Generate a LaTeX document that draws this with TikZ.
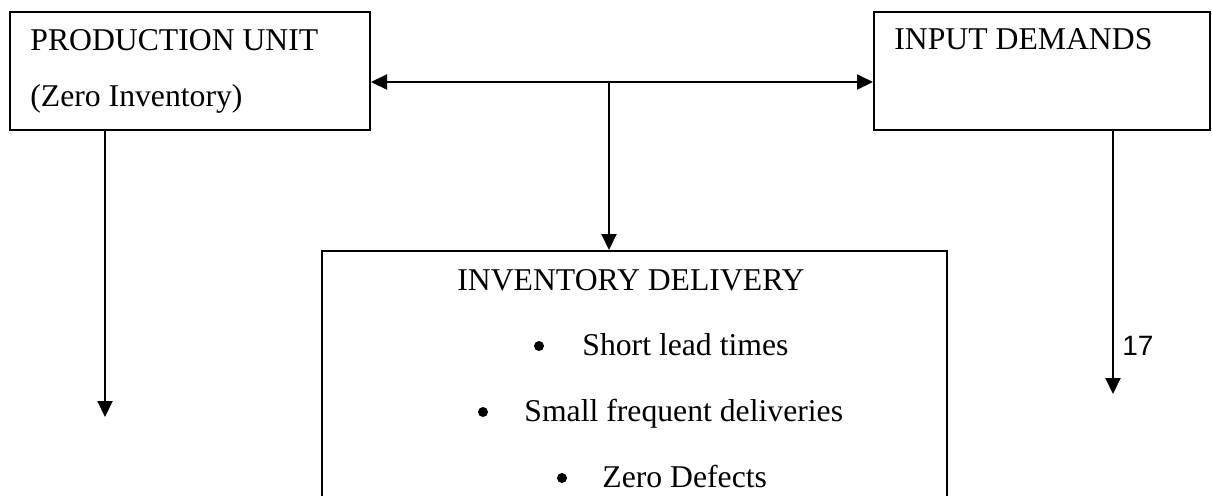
\documentclass[tikz,border=0pt]{standalone}
\usepackage{fontspec}
\setmainfont{Liberation Serif}
\newfontfamily\labelsans{Liberation Sans}
\usetikzlibrary{arrows.meta}

\tikzset{
  box/.style={draw, line width=1pt, anchor=north west, inner sep=0pt},
  txt/.style={anchor=base west, inner sep=0pt, font=\fontsize{15.85pt}{19pt}\selectfont},
  numlbl/.style={anchor=base west, inner sep=0pt, font=\labelsans\fontsize{14pt}{16pt}\selectfont},
  dot/.style={circle, fill=black, inner sep=0pt, minimum size=5pt},
  conn/.style={line width=1pt, -{Triangle[length=8pt,width=7.5pt]}},
  biconn/.style={line width=1pt, {Triangle[length=8pt,width=7.5pt]}-{Triangle[length=8pt,width=7.5pt]}}
}

\begin{document}
\begin{tikzpicture}[x=0.5pt, y=-0.5pt]
  \useasboundingbox (0,0) rectangle (1212,495);
  \fill[white] (0,0) rectangle (1212,495);

  % boxes
  \node[box, minimum width=180pt, minimum height=59pt] (prod) at (9,11) {};
  \node[box, minimum width=168pt, minimum height=59pt] (input) at (873,11) {};
  \node[box, minimum width=312.5pt, minimum height=150pt] (deliv) at (321,250) {};

  % box texts
  \node[txt] (prodA) at (30,50) {PRODUCTION UNIT};
  \node[txt] (prodB) at (30,106) {(Zero Inventory)};
  \node[txt] (inputA) at (894,49) {INPUT DEMANDS};
  \node[txt] (delivA) at (457,290) {INVENTORY DELIVERY};

  % bulleted list
  \node[dot] (b1) at (539,346) {};
  \node[txt] (i1) at (582,355) {Short lead times};
  \node[dot] (b2) at (483,412) {};
  \node[txt] (i2) at (524,421) {Small frequent deliveries};
  \node[dot] (b3) at (562,478) {};
  \node[txt] (i3) at (602,487) {Zero Defects};

  % connectors
  \coordinate (hub) at (609,82);
  \coordinate (outL) at (105,417);
  \coordinate (outR) at (1113,394);
  \draw[biconn] (prod.east |- hub) -- (input.west |- hub);
  \draw[conn] (hub) -- (hub |- deliv.north);
  \draw[conn] (prod.south -| outL) -- (outL);
  \draw[conn] (input.south -| outR) -- (outR);

  \node[numlbl] (num) at (1122,355) {17};
\end{tikzpicture}
\end{document}
